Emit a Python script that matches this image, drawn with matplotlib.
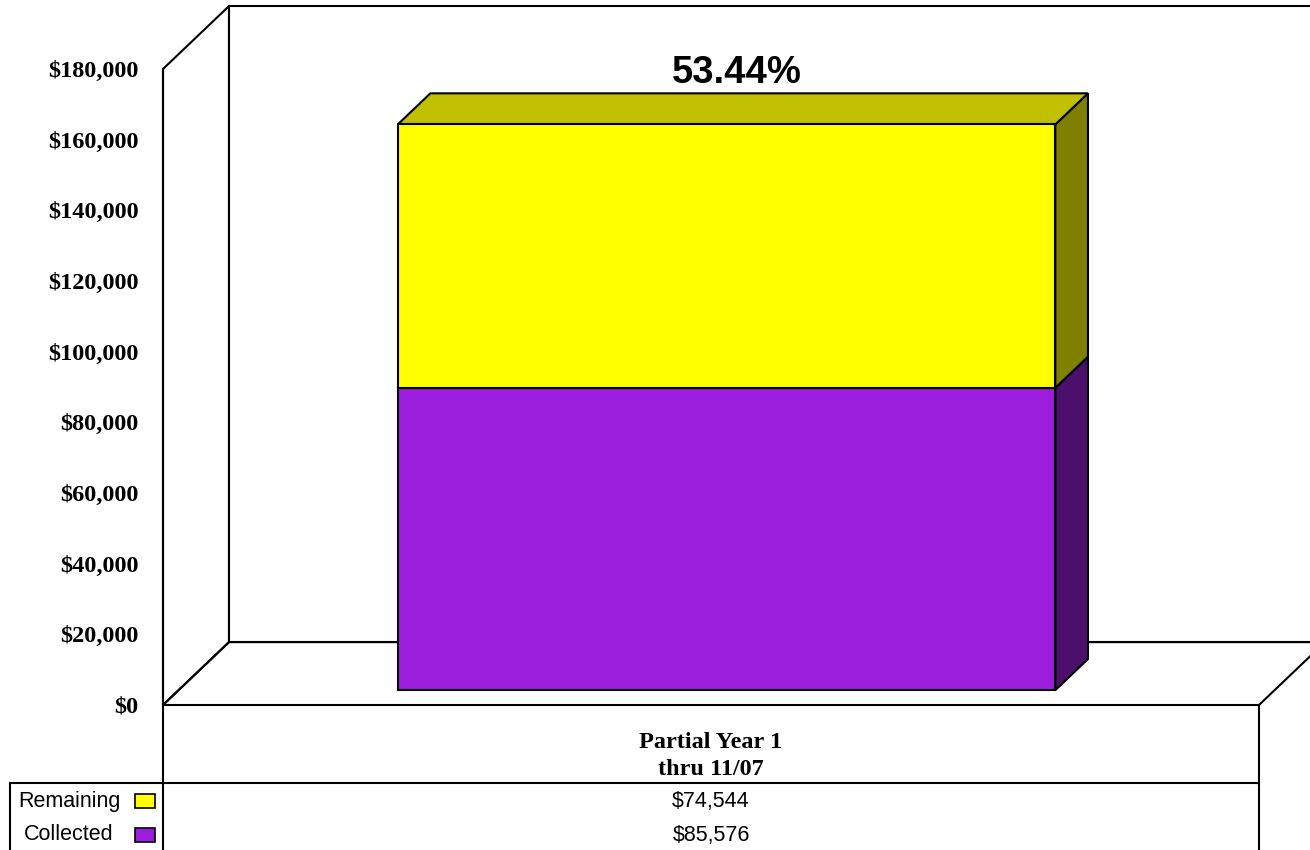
import matplotlib
matplotlib.use("Agg")
import matplotlib.pyplot as plt
from matplotlib.patches import Polygon, Rectangle

# data
category = "Partial Year 1\nthru 11/07"
series = ["Collected", "Remaining"]
values = [85576, 74544]
front_colors = ["#9b1edc", "#ffff00"]
side_colors = ["#4c0f6c", "#808000"]
top_colors = ["#6e16a0", "#c0c000"]
ymax = 180000
yticks = list(range(0, 180001, 20000))

W, H = 1310, 850
fig = plt.figure(figsize=(W / 100, H / 100), dpi=100)
ax = fig.add_axes([163 / W, (H - 705) / H, 1096 / W, 636 / H])
ax.set_xlim(-0.5, 0.5)
ax.set_ylim(0, ymax)

# depth of the 3d box in data units
DX, DY = 0.0602, 17800
f0, f1 = 0.235, 0.73   # bar front / back as part of the depth
lw = 1.5

def poly(pts, fc="none", z=1):
    ax.add_patch(Polygon(pts, closed=True, facecolor=fc, edgecolor="black",
                         lw=lw, clip_on=False, zorder=z, joinstyle="miter"))

# walls and floor
poly([(-0.5, 0), (-0.5, ymax), (-0.5 + DX, ymax + DY), (-0.5 + DX, DY)])
poly([(-0.5 + DX, DY), (0.5 + DX, DY), (0.5 + DX, ymax + DY), (-0.5 + DX, ymax + DY)])
poly([(-0.5, 0), (0.5, 0), (0.5 + DX, DY), (-0.5 + DX, DY)])

# stacked 3d bar
x0, x1 = -0.3, 0.3
ax0, ay0 = f0 * DX, f0 * DY
ax1, ay1 = f1 * DX, f1 * DY
bottom = 0
for i, v in enumerate(values):
    top = bottom + v
    # side
    poly([(x1 + ax0, bottom + ay0), (x1 + ax1, bottom + ay1),
          (x1 + ax1, top + ay1), (x1 + ax0, top + ay0)], side_colors[i], 3)
    # top face
    poly([(x0 + ax0, top + ay0), (x1 + ax0, top + ay0),
          (x1 + ax1, top + ay1), (x0 + ax1, top + ay1)], top_colors[i], 3)
    # front
    poly([(x0 + ax0, bottom + ay0), (x1 + ax0, bottom + ay0),
          (x1 + ax0, top + ay0), (x0 + ax0, top + ay0)], front_colors[i], 4)
    bottom = top

# axis
for s in ["top", "right", "bottom"]:
    ax.spines[s].set_visible(False)
ax.spines["left"].set_linewidth(lw)
ax.set_xticks([])
ax.set_yticks(yticks, labels=[f"${v:,}" for v in yticks],
              fontfamily="Liberation Serif", fontweight="bold", fontsize=17.5)
ax.tick_params(axis="y", length=0, pad=17.5)
ax.patch.set_visible(False)

pct = values[0] / sum(values) * 100
fig.text(737 / W, 1 - 73 / H, f"{pct:.2f}%", ha="center", va="center",
         fontsize=27.5, fontweight="bold", family="Liberation Sans")

# data table
tax = fig.add_axes([0, 0, 1, 1])
tax.set_xlim(0, W)
tax.set_ylim(H, 0)
tax.axis("off")
tax.patch.set_visible(False)
tax.plot([163, 163], [705, 850], color="black", lw=lw)
tax.plot([1259, 1259], [705, 850], color="black", lw=lw)
tax.plot([10, 10], [783, 850], color="black", lw=lw)
tax.plot([10, 1259], [783, 783], color="black", lw=lw)
tax.text(711, 756, category, ha="center", va="center", fontsize=17.5,
         fontweight="bold", family="Liberation Serif", linespacing=1.35)

rows_y = [801, 835]
order = [1, 0]   # Remaining listed first
for ry, i in zip(rows_y, order):
    tax.text(711, ry, f"${values[i]:,}", ha="center", va="center",
             fontsize=15.5, family="Liberation Sans")
    tax.text(69, ry, series[i], ha="center", va="center",
             fontsize=15.5, family="Liberation Sans")
    tax.add_patch(Rectangle((135, ry - 7), 20, 14, facecolor=front_colors[i],
                            edgecolor="black", lw=1.2))

fig.savefig("out.png", dpi=100)
